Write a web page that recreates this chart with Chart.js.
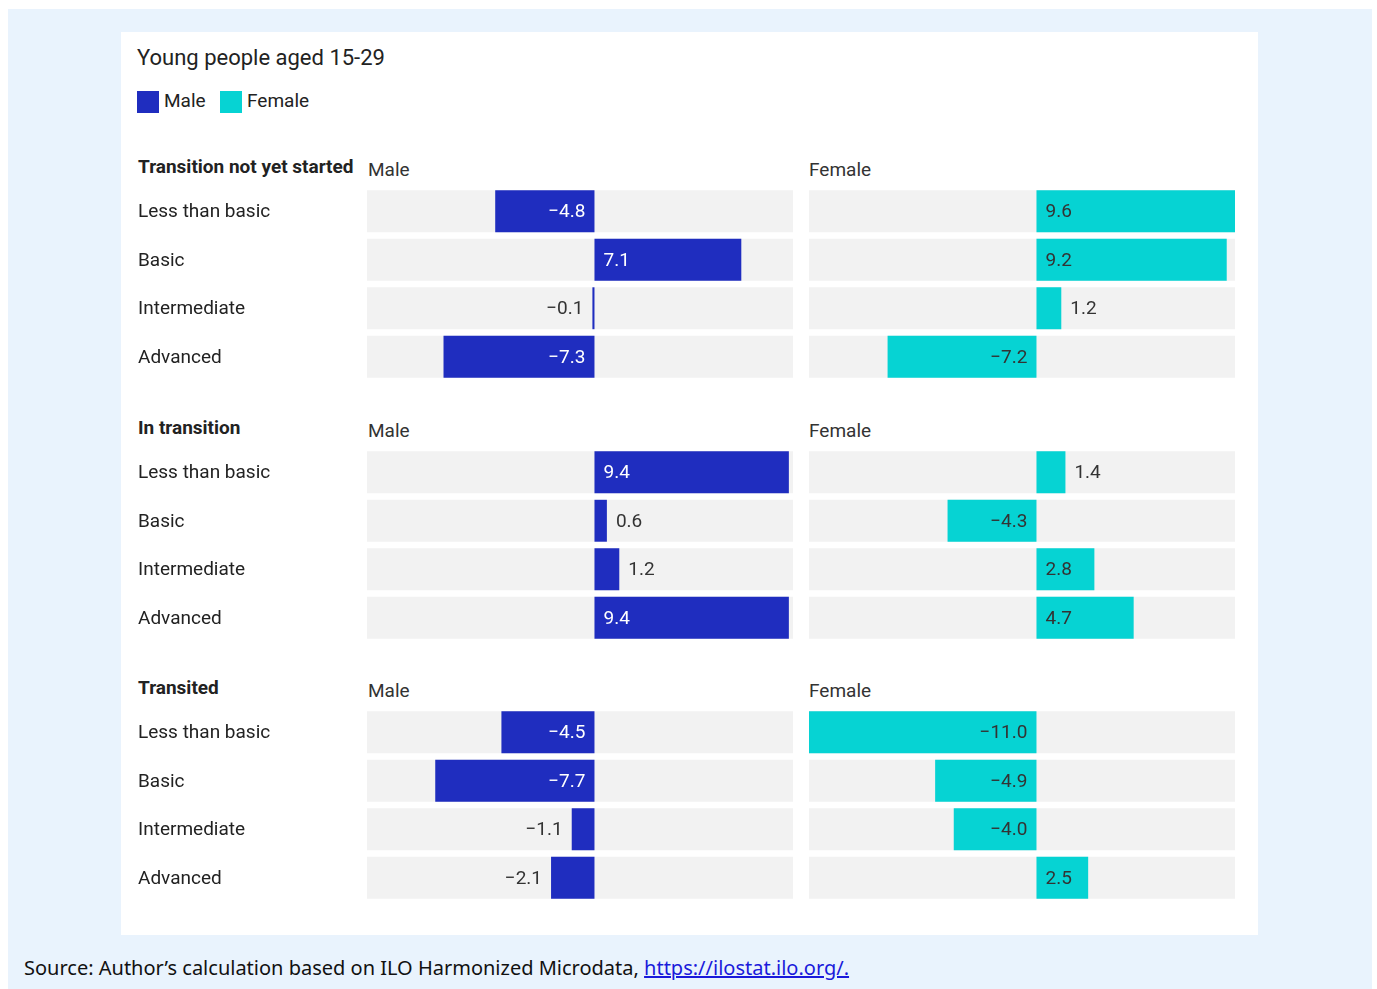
<!DOCTYPE html>
<html lang="en">

<head>
    <meta charset="UTF-8">
    <title>Young people aged 15-29</title>
    <script src="https://cdn.jsdelivr.net/npm/chart.js"></script>
    <style>
        body {
            margin: 0;
            background: #ffffff;
            font-family: 'Roboto', sans-serif;
            color: #222;
        }

        .frame {
            position: absolute;
            left: 8px;
            top: 9px;
            width: 1364px;
            height: 980px;
            background: #e9f3fd;
        }

        .panel {
            position: absolute;
            left: 121px;
            top: 32px;
            width: 1137px;
            height: 903px;
            background: #ffffff;
        }

        .txt {
            position: absolute;
            white-space: nowrap;
            line-height: 20px;
        }

        .title { font-size: 22px; }
        .legend-box { position: absolute; width: 22px; height: 22px; }
        .legend-text { font-size: 19px; }
        .group { font-size: 19px; font-weight: 700; }
        .side { font-size: 19px; color: #333; }

        .chart {
            position: absolute;
        }

        .source {
            position: absolute;
            left: 24px;
            top: 954px;
            font-family: 'Noto Sans', sans-serif;
            font-size: 20px;
            color: #111;
            white-space: nowrap;
        }

        .source a { color: #1a1adb; }
    </style>
</head>

<body>
    <div class="frame"></div>
    <div class="panel"></div>
    <div id="page"></div>
    <div class="source">Source: Author’s calculation based on ILO Harmonized Microdata, <a href="https://ilostat.ilo.org/">https://ilostat.ilo.org/.</a></div>

    <script>
        // categories and series
        const categories = ['Less than basic', 'Basic', 'Intermediate', 'Advanced'];
        const groups = ['Transition not yet started', 'In transition', 'Transited'];
        const sides = ['Male', 'Female'];

        const maleNotStarted = [-4.8, 7.1, -0.1, -7.3];
        const femaleNotStarted = [9.6, 9.2, 1.2, -7.2];
        const maleInTransition = [9.4, 0.6, 1.2, 9.4];
        const femaleInTransition = [1.4, -4.3, 2.8, 4.7];
        const maleTransited = [-4.5, -7.7, -1.1, -2.1];
        const femaleTransited = [-11.0, -4.9, -4.0, 2.5];

        // shared axis extent for every panel
        const xMin = -11;
        const xMax = 9.6;

        const seriesByGroup = [
            [maleNotStarted, femaleNotStarted],
            [maleInTransition, femaleInTransition],
            [maleTransited, femaleTransited]
        ];

        const colors = { Male: '#1f2dbf', Female: '#06d3d3' };
        const labelInside = { Male: '#ffffff', Female: '#333333' };

        const page = document.getElementById('page');

        function addText(cls, text, left, centerY) {
            const el = document.createElement('div');
            el.className = 'txt ' + cls;
            el.textContent = text;
            el.style.left = left + 'px';
            el.style.top = (centerY - 10) + 'px';
            page.appendChild(el);
            return el;
        }

        // title and legend
        addText('title', 'Young people aged 15-29', 137, 58);
        sides.forEach((s, i) => {
            const box = document.createElement('div');
            box.className = 'legend-box';
            box.style.left = (i === 0 ? 137 : 220) + 'px';
            box.style.top = '91px';
            box.style.background = colors[s];
            page.appendChild(box);
            addText('legend-text', s, i === 0 ? 164 : 247, 101);
        });

        function fmt(v) {
            const s = Math.abs(v).toFixed(1);
            return v < 0 ? '\u2212' + s : s;
        }

        // value labels: inside the bar near zero when there is room, else past the bar end;
        // the Male panels also carry the category names at the canvas' left edge
        const barLabels = {
            id: 'barLabels',
            afterDatasetsDraw(chart) {
                const ctx = chart.ctx;
                const meta = chart.getDatasetMeta(1);
                const data = chart.data.datasets[1].data;
                const opts = chart.options.plugins.barLabels;
                const side = opts.side;
                const zero = chart.scales.x.getPixelForValue(0);
                ctx.save();
                ctx.font = '19px Roboto';
                ctx.textBaseline = 'middle';
                if (opts.categories) {
                    ctx.fillStyle = '#222222';
                    ctx.textAlign = 'left';
                    chart.data.labels.forEach((lab, i) => {
                        ctx.fillText(lab, 0, chart.scales.y.getPixelForValue(i) + 1);
                    });
                }
                meta.data.forEach((bar, i) => {
                    const v = data[i];
                    const text = fmt(v);
                    const tw = ctx.measureText(text).width;
                    const w = Math.abs(bar.x - zero);
                    const y = bar.y + 1;
                    const pad = 9;
                    if (w >= tw + pad * 2) {
                        ctx.fillStyle = labelInside[side];
                        if (v >= 0) { ctx.textAlign = 'left'; ctx.fillText(text, zero + pad, y); }
                        else { ctx.textAlign = 'right'; ctx.fillText(text, zero - pad, y); }
                    } else {
                        ctx.fillStyle = '#333333';
                        if (v >= 0) { ctx.textAlign = 'left'; ctx.fillText(text, bar.x + pad, y); }
                        else { ctx.textAlign = 'right'; ctx.fillText(text, bar.x - pad, y); }
                    }
                });
                ctx.restore();
            }
        };

        const groupTop = [190, 451, 711];
        const rowPitch = 48.6;
        const barH = 42;

        groups.forEach((g, gi) => {
            const top = groupTop[gi];
            addText('group', g, 138, top - 23);
            sides.forEach((s, si) => {
                addText('side', s, si === 0 ? 368 : 809, top - 20);

                const values = seriesByGroup[gi][si];
                const isMale = si === 0;
                const canvas = document.createElement('canvas');
                const left = isMale ? 138 : 809;
                const width = isMale ? 655 : 426;
                const height = Math.round(rowPitch * categories.length);
                canvas.className = 'chart';
                canvas.style.left = left + 'px';
                canvas.style.top = (top - (rowPitch - barH) / 2) + 'px';
                canvas.width = width;
                canvas.height = height;
                canvas.style.width = width + 'px';
                canvas.style.height = height + 'px';
                page.appendChild(canvas);

                new Chart(canvas.getContext('2d'), {
                    type: 'bar',
                    data: {
                        labels: categories,
                        datasets: [{
                            data: categories.map(() => [xMin, xMax]),
                            backgroundColor: '#f2f2f2',
                            grouped: false,
                            order: 2,
                            categoryPercentage: 1,
                            barPercentage: barH / rowPitch
                        }, {
                            data: values,
                            backgroundColor: colors[s],
                            grouped: false,
                            order: 1,
                            categoryPercentage: 1,
                            barPercentage: barH / rowPitch
                        }]
                    },
                    options: {
                        indexAxis: 'y',
                        responsive: false,
                        animation: false,
                        layout: { padding: { left: isMale ? 229 : 0, right: 0, top: 0, bottom: 0 } },
                        plugins: {
                            legend: { display: false },
                            tooltip: { enabled: false },
                            barLabels: { side: s, categories: isMale }
                        },
                        scales: {
                            x: { display: false, min: xMin, max: xMax },
                            y: { display: false }
                        }
                    },
                    plugins: [barLabels]
                });
            });
        });
    </script>
</body>

</html>
